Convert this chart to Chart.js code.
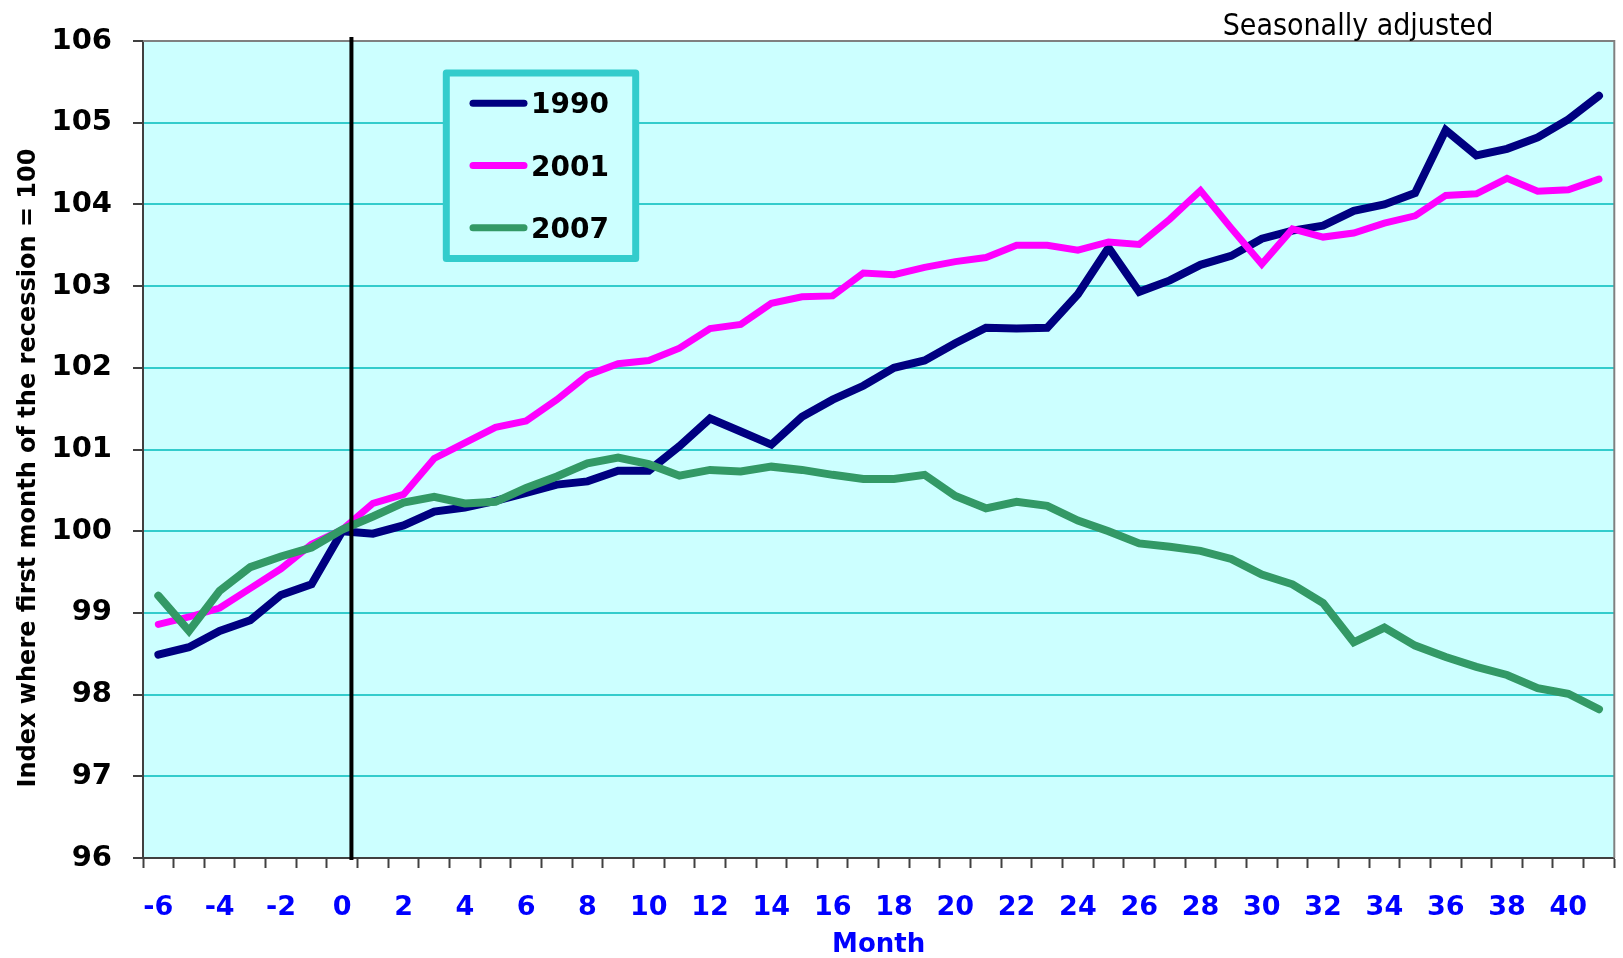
<!DOCTYPE html>
<html>
<head>
<meta charset="utf-8">
<title>Index where first month of the recession = 100</title>
<script src="https://cdn.jsdelivr.net/npm/chart.js@4.4.1/dist/chart.umd.min.js"></script>
<style>
  html, body { margin: 0; padding: 0; background: #ffffff; }
  #wrap { position: relative; width: 1623px; height: 958px; }
</style>
</head>
<body>
<div id="wrap"><canvas id="recessionChart"></canvas></div>
<script>
// months counted from the first month of each recession
const months = [-6, -5, -4, -3, -2, -1, 0, 1, 2, 3, 4, 5, 6, 7, 8, 9, 10, 11,
    12, 13, 14, 15, 16, 17, 18, 19, 20, 21, 22, 23, 24, 25, 26, 27, 28, 29,
    30, 31, 32, 33, 34, 35, 36, 37, 38, 39, 40, 41];

const index1990 = [98.49, 98.58, 98.78, 98.91, 99.22, 99.35, 100.00, 99.97, 100.07, 100.24, 100.29, 100.37,
    100.47, 100.57, 100.61, 100.74, 100.74, 101.04, 101.38, 101.22, 101.06, 101.40, 101.61, 101.78,
    102.00, 102.09, 102.30, 102.49, 102.48, 102.49, 102.90, 103.47, 102.93, 103.07, 103.26, 103.37,
    103.58, 103.68, 103.74, 103.92, 104.00, 104.14, 104.91, 104.60, 104.68, 104.82, 105.04, 105.33];

const index2001 = [98.86, 98.95, 99.06, 99.30, 99.54, 99.84, 100.02, 100.34, 100.45, 100.89, 101.08, 101.27,
    101.35, 101.61, 101.91, 102.05, 102.09, 102.24, 102.48, 102.53, 102.79, 102.87, 102.88, 103.16,
    103.14, 103.23, 103.30, 103.35, 103.50, 103.50, 103.44, 103.54, 103.51, 103.82, 104.17, 103.71,
    103.27, 103.70, 103.60, 103.65, 103.77, 103.86, 104.11, 104.13, 104.32, 104.16, 104.18, 104.31];

const index2007 = [99.21, 98.78, 99.27, 99.56, 99.69, 99.80, 100.02, 100.18, 100.35, 100.42, 100.34, 100.36,
    100.53, 100.67, 100.83, 100.90, 100.82, 100.68, 100.75, 100.73, 100.79, 100.75, 100.69, 100.64,
    100.64, 100.69, 100.43, 100.28, 100.36, 100.31, 100.13, 100.00, 99.85, 99.81, 99.76, 99.66,
    99.47, 99.35, 99.12, 98.64, 98.82, 98.60, 98.46, 98.34, 98.24, 98.08, 98.01, 97.82];

const seriesNames = ['1990', '2001', '2007'];
const seriesColors = ['#000080', '#FF00FF', '#339966'];
const seriesWidths = [8, 7, 8];

const yTitle = 'Index where first month of the recession = 100';
const xTitle = 'Month';
const noteText = 'Seasonally adjusted';

Chart.defaults.font.family = "'DejaVu Sans', Verdana, sans-serif";

function makeDataset(i, values) {
    return {
        label: seriesNames[i],
        data: values,
        borderColor: seriesColors[i],
        backgroundColor: seriesColors[i],
        borderWidth: seriesWidths[i],
        borderCapStyle: 'round',
        pointRadius: 0,
        tension: 0,
        fill: false,
        order: 3 - i
    };
}

// cyan plot background and the grey frame on top / right
const plotFrame = {
    id: 'plotFrame',
    beforeDraw(chart) {
        const a = chart.chartArea, ctx = chart.ctx;
        ctx.save();
        ctx.fillStyle = '#CCFFFF';
        ctx.fillRect(a.left, a.top, a.right - a.left, a.bottom - a.top);
        ctx.restore();
    },
    beforeDatasetsDraw(chart) {
        const a = chart.chartArea, ctx = chart.ctx;
        ctx.save();
        ctx.strokeStyle = '#808080';
        ctx.lineWidth = 2;
        ctx.beginPath();
        ctx.moveTo(a.left, a.top);
        ctx.lineTo(a.right, a.top);
        ctx.lineTo(a.right, a.bottom);
        ctx.stroke();
        ctx.restore();
    }
};

// black marker line just after month 0
const startLine = {
    id: 'startLine',
    afterDatasetsDraw(chart) {
        const x = chart.scales.x, a = chart.chartArea, ctx = chart.ctx;
        const i0 = months.indexOf(0);
        const px = x.getPixelForValue(i0) + 0.3 * (x.getPixelForValue(i0 + 1) - x.getPixelForValue(i0));
        ctx.save();
        ctx.strokeStyle = '#000000';
        ctx.lineWidth = 4;
        ctx.beginPath();
        ctx.moveTo(px, a.top - 4);
        ctx.lineTo(px, a.bottom + 2);
        ctx.stroke();
        ctx.restore();
    }
};

// boxed legend inside the plot, y axis title and the note
const annotations = {
    id: 'annotations',
    afterDraw(chart) {
        const ctx = chart.ctx;
        ctx.save();

        ctx.fillStyle = '#CCFFFF';
        ctx.fillRect(446, 73, 190, 185);
        ctx.strokeStyle = '#33CCCC';
        ctx.lineWidth = 7;
        ctx.lineJoin = 'round';
        ctx.strokeRect(446.3, 72.9, 189.4, 185.5);

        chart.data.datasets.forEach(function (ds, i) {
            const y = 103.3 + i * 62.2;
            ctx.strokeStyle = ds.borderColor;
            ctx.lineWidth = 7;
            ctx.lineCap = 'round';
            ctx.beginPath();
            ctx.moveTo(473, y);
            ctx.lineTo(524, y);
            ctx.stroke();
            ctx.fillStyle = '#000000';
            ctx.font = "bold 28px 'DejaVu Sans', Verdana, sans-serif";
            ctx.textAlign = 'left';
            ctx.textBaseline = 'alphabetic';
            ctx.fillText(ds.label, 531, y + 10);
        });

        ctx.translate(35, 468);
        ctx.rotate(-Math.PI / 2);
        ctx.fillStyle = '#000000';
        ctx.font = "bold 24px 'DejaVu Sans', Verdana, sans-serif";
        ctx.textAlign = 'center';
        ctx.textBaseline = 'alphabetic';
        ctx.fillText(yTitle, 0, 0);
        ctx.setTransform(1, 0, 0, 1, 0, 0);

        ctx.font = "30px 'DejaVu Sans Condensed', 'Liberation Sans', sans-serif";
        ctx.textAlign = 'center';
        ctx.fillText(noteText, 1358, 35);
        ctx.restore();
    }
};

const ctx = document.getElementById('recessionChart').getContext('2d');
const recessionChart = new Chart(ctx, {
    type: 'line',
    data: {
        labels: months.map(String),
        datasets: [
            makeDataset(0, index1990),
            makeDataset(1, index2001),
            makeDataset(2, index2007)
        ]
    },
    options: {
        responsive: true,
        maintainAspectRatio: false,
        animation: false,
        layout: { padding: { top: 41, right: 3, bottom: 0, left: 0 } },
        plugins: {
            legend: { display: false },
            tooltip: { enabled: false }
        },
        scales: {
            x: {
                type: 'category',
                offset: true,
                grid: {
                    offset: true,
                    drawOnChartArea: false,
                    drawTicks: true,
                    tickLength: 10,
                    tickColor: '#404040',
                    tickWidth: 2
                },
                border: { display: true, color: '#404040', width: 2 },
                ticks: {
                    autoSkip: false,
                    maxRotation: 0,
                    color: '#0000FF',
                    font: { size: 27, weight: 'bold' },
                    padding: 24,
                    callback: function (value, i) {
                        return months[i] % 2 === 0 ? String(months[i]) : '';
                    }
                },
                title: {
                    display: true,
                    text: xTitle,
                    color: '#0000FF',
                    font: { size: 26, weight: 'bold', lineHeight: 1.0 },
                    padding: 0
                },
                afterFit: function (scale) { scale.height = 100; }
            },
            y: {
                min: 96,
                max: 106,
                ticks: {
                    stepSize: 1,
                    color: '#000000',
                    font: { size: 29, weight: 'bold' },
                    padding: 21
                },
                grid: {
                    color: '#33CCCC',
                    lineWidth: 2,
                    tickLength: 10,
                    tickColor: '#404040',
                    tickWidth: 2
                },
                border: { display: true, color: '#404040', width: 2 },
                afterFit: function (scale) { scale.width = 143; }
            }
        }
    },
    plugins: [plotFrame, startLine, annotations]
});
</script>
</body>
</html>
